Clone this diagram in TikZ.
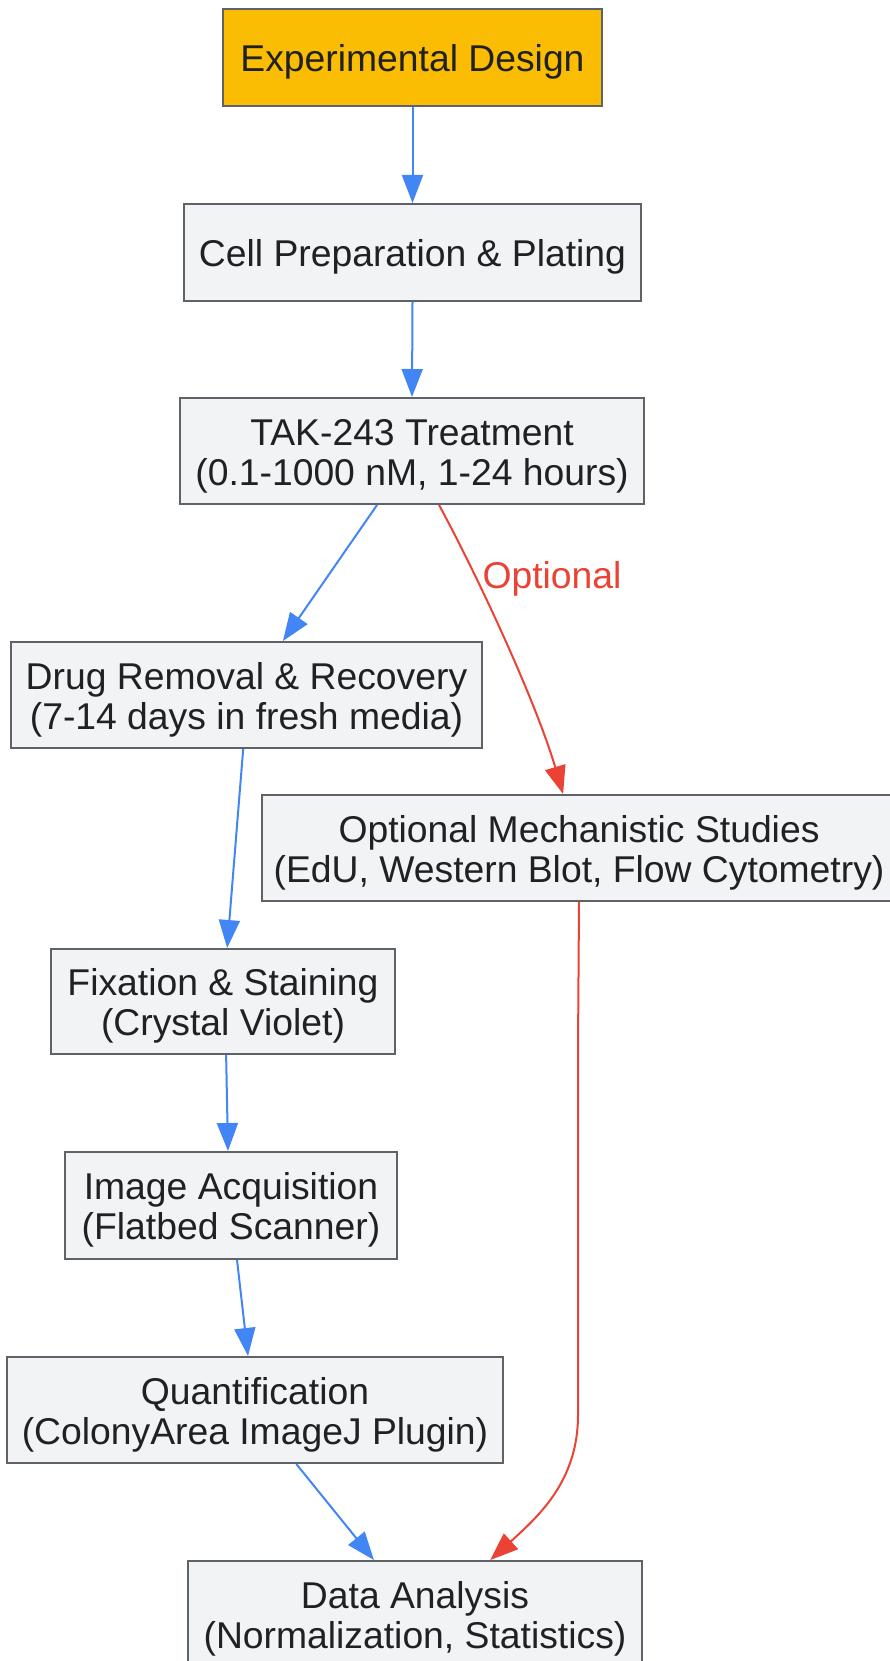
\documentclass[tikz,border=0pt]{standalone}
\usepackage{fontspec}
\setmainfont{Liberation Sans}
\usetikzlibrary{arrows.meta,calc}
\definecolor{gyellow}{HTML}{FBBC04}
\definecolor{boxfill}{HTML}{F1F3F4}
\definecolor{bordergray}{HTML}{5F6368}
\definecolor{textcol}{HTML}{202124}
\definecolor{gblue}{HTML}{4285F4}
\definecolor{gred}{HTML}{EA4335}
\newcommand\boxfont{\fontsize{37.3}{40}\selectfont}
\newcommand\upstrut{\rule{0pt}{36.5pt}}
\tikzset{
  box/.style={draw=bordergray, fill=boxfill, line width=2pt, inner sep=0pt, align=center, text=textcol, font=\boxfont},
  startbox/.style={box, fill=gyellow},
  flow/.style={draw=gblue, line width=2pt, -{Triangle[length=28pt,width=21pt]}},
  optflow/.style={draw=gred, line width=2pt, -{Triangle[length=28pt,width=21pt]}},
  optlabel/.style={text=gred, font=\boxfont, inner sep=0pt}
}
\begin{document}
\begin{tikzpicture}[x=1pt,y=-1pt]
\useasboundingbox (0,0) rectangle (889,1661);
\node[startbox, minimum width=379pt, minimum height=97pt] (exp) at (412.5,57.5) {\upstrut Experimental Design};
\node[box, minimum width=457pt, minimum height=97pt] (cell) at (412.5,252.5) {\upstrut Cell Preparation \& Plating};
\node[box, minimum width=464pt, minimum height=106pt] (tak) at (412,451) {\upstrut TAK-243 Treatment\\(0.1-1000 nM, 1-24 hours)};
\node[box, minimum width=471pt, minimum height=106pt] (drug) at (246.5,695) {\upstrut Drug Removal \& Recovery\\(7-14 days in fresh media)};
\node[box, minimum width=634pt, minimum height=106pt] (mech) at (579,848) {\upstrut Optional Mechanistic Studies\\(EdU, Western Blot, Flow Cytometry)};
\node[box, minimum width=344pt, minimum height=105pt] (fix) at (223,1001.5) {\upstrut Fixation \& Staining\\(Crystal Violet)};
\node[box, minimum width=332pt, minimum height=107pt] (img) at (231,1205.5) {\upstrut Image Acquisition\\(Flatbed Scanner)};
\node[box, minimum width=496pt, minimum height=106pt] (quant) at (255,1410) {\upstrut Quantification\\(ColonyArea ImageJ Plugin)};
\node[box, minimum width=454pt, minimum height=106pt] (data) at (415,1614) {\upstrut Data Analysis\\(Normalization, Statistics)};

\draw[flow] (exp.south) -- (cell.north);
\draw[flow] (cell.south) -- (tak.north);
\draw[flow] ($(tak.south west)!0.425!(tak.south east)$) -- ($(drug.north west)!0.577!(drug.north east)$);
\draw[optflow] ($(tak.south west)!0.558!(tak.south east)$) .. controls +(36,66) and +(-28,-95) .. ($(mech.north west)!0.475!(mech.north east)$);
\node[optlabel] (optlab) at (552,579) {Optional};
\draw[flow] ($(drug.south west)!0.493!(drug.south east)$) -- ($(fix.north west)!0.512!(fix.north east)$);
\draw[flow] ($(fix.south west)!0.509!(fix.south east)$) -- ($(img.north west)!0.491!(img.north east)$);
\draw[flow] ($(img.south west)!0.518!(img.south east)$) -- ($(quant.north west)!0.486!(quant.north east)$);
\draw[flow] ($(quant.south west)!0.583!(quant.south east)$) -- ($(data.north west)!0.41!(data.north east)$);
\coordinate (bend) at (578,1415);
\draw[optflow] (mech.south) -- (578,1050) -- (bend) .. controls (578,1480) and (540,1515) .. ($(data.north west)!0.665!(data.north east)$);
\end{tikzpicture}
\end{document}
